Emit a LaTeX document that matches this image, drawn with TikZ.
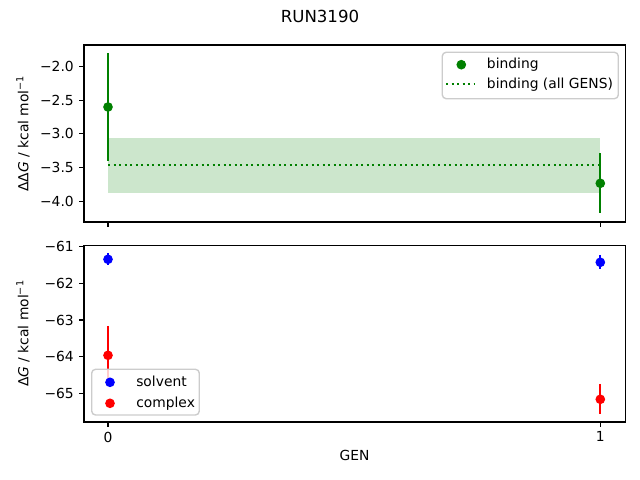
\documentclass[tikz,border=0pt]{standalone}
\usepackage{fontspec}
\setmainfont{DejaVu Sans}
\definecolor{mgreen}{RGB}{0,128,0}
\definecolor{mblue}{RGB}{0,0,255}
\definecolor{mred}{RGB}{255,0,0}
\begin{document}
\begin{tikzpicture}[x=0.01in,y=-0.01in,
  spine/.style={line width=0.8pt, black},
  tickmark/.style={line width=0.8pt, black},
  ebar/.style={line width=1.5pt},
  mk/.style={circle, inner sep=0pt, minimum size=7pt, draw=none},
  legendbox/.style={draw=black!20, fill=white, fill opacity=0.8, rounded corners=2.8pt, line width=1pt},
  lab/.style={font=\fontsize{10}{12}\selectfont, inner sep=0pt},
  ylab/.style={lab, anchor=east},
  xlab/.style={lab, anchor=north}]
\useasboundingbox (0,0) rectangle (640,480);
% title
\node[lab, font=\fontsize{12}{14}\selectfont] (title) at (320,16) {RUN3190};
% ---------- top axes ----------
\fill[mgreen, opacity=0.2] (108,138) rectangle (600.3,192.7);
\draw[mgreen, line width=1.5pt, dash pattern=on 1.5pt off 2.475pt] (108,165) -- (600.3,165);
\draw[ebar, mgreen] (108,53.3) -- (108,160.8);
\draw[ebar, mgreen] (600.3,153.5) -- (600.3,213.3);
\node[mk, fill=mgreen] (b0) at (108,107) {};
\node[mk, fill=mgreen] (b1) at (600.3,183.3) {};
\draw[spine] (84,45) rectangle (625.3,222);
\foreach \yy/\tl in {66.7/−2.0,100.3/−2.5,133.9/−3.0,167.5/−3.5,201.1/−4.0}{
  \draw[tickmark] (84,\yy) -- (79.1,\yy);
  \node[ylab] at (74,\yy) {\tl};
}
\foreach \xx in {108,600.3}{ \draw[tickmark] (\xx,222) -- (\xx,226.9); }
\node[lab, rotate=90] (ytop) at (23,133.5) {ΔΔ\textit{G} / kcal mol\textsuperscript{−1}};
% legend top
\draw[legendbox] (442.3,52.3) rectangle (618.3,98.7);
\node[mk, fill=mgreen] (lgb) at (461.3,64.7) {};
\draw[mgreen, line width=1.5pt, dash pattern=on 1.5pt off 2.475pt] (446,84.3) -- (474,84.3);
\node[lab, anchor=mid west] (lt1) at (486.7,65) {binding};
\node[lab, anchor=mid west] (lt2) at (486.7,84.6) {binding (all GENS)};
% ---------- bottom axes ----------
\draw[ebar, mblue] (108,253.3) -- (108,265.3);
\draw[ebar, mblue] (600.3,255) -- (600.3,269.5);
\draw[ebar, mred] (108,326) -- (108,384.6);
\draw[ebar, mred] (600.3,384) -- (600.3,413.7);
\node[mk, fill=mblue] (s0) at (108,259.3) {};
\node[mk, fill=mblue] (s1) at (600.3,262.3) {};
\node[mk, fill=mred] (c0) at (108,355.3) {};
\node[mk, fill=mred] (c1) at (600.3,399.3) {};
\draw[spine] (84,245.3) rectangle (625.3,422);
\foreach \yy/\tl in {246.7/−61,283.4/−62,320/−63,356.7/−64,393.4/−65}{
  \draw[tickmark] (84,\yy) -- (79.1,\yy);
  \node[ylab] at (74,\yy) {\tl};
}
\foreach \xx/\tl in {108/0,600.3/1}{
  \draw[tickmark] (\xx,422) -- (\xx,426.9);
  \node[xlab] at (\xx,431.5) {\tl};
}
\node[lab, anchor=north] (xl) at (354.5,450) {GEN};
\node[lab, rotate=90] (ybot) at (23,333.5) {Δ\textit{G} / kcal mol\textsuperscript{−1}};
% legend bottom
\draw[legendbox] (91.7,369.3) rectangle (199.3,415);
\node[mk, fill=mblue] (lgs) at (110,382.3) {};
\node[mk, fill=mred] (lgc) at (110,403.3) {};
\node[lab, anchor=mid west] (ls) at (136,382.6) {solvent};
\node[lab, anchor=mid west] (lc) at (136,403.6) {complex};
\end{tikzpicture}
\end{document}
